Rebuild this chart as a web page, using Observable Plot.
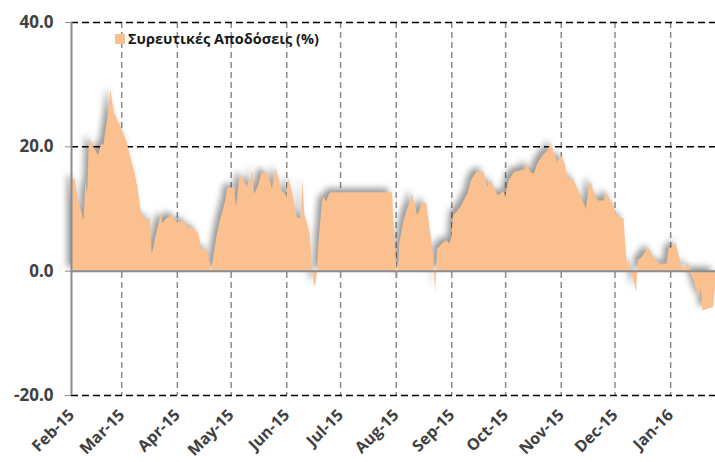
<!DOCTYPE html>
<html><head><meta charset="utf-8">
<script src="https://cdn.jsdelivr.net/npm/d3@7"></script>
<script src="https://cdn.jsdelivr.net/npm/@observablehq/plot@0.6"></script>
<style>
body{margin:0;background:#fff;}
#wrap{position:relative;width:715px;height:462px;}
#legend{position:absolute;left:115px;top:29px;font:bold 14.5px "Open Sans", sans-serif;color:#1a1a1a;display:flex;align-items:center;gap:3px;z-index:2}
#legend .sw{width:10px;height:10px;background:#FAC090;display:inline-block}
</style></head><body><div id="wrap"><div id="legend"><span class="sw"></span><span>Συρευτικές Αποδόσεις (%)</span></div></div>
<script>
const startDate = "2015-02-01";
const endOffset = 359;
const seriesName = "Συρευτικές Αποδόσεις (%)";
const dayOffsets = [0,2,4,7,8,9,10,11,15,17,18,20,22,24,26,28,31,33,35,37,39,42,44,45,47,50,51,52,54,57,59,61,64,65,68,71,72,73,76,78,81,83,86,87,91,92,94,96,98,99,100,101,102,104,106,108,110,112,114,116,117,119,120,121,123,125,126,128,129,130,133,134,135,136,137,138,140,141,142,144,145,179,180,182,183,185,187,189,190,192,193,195,196,198,200,202,203,204,205,207,209,211,212,213,215,217,220,221,223,226,230,232,234,236,238,241,242,244,247,251,253,254,256,258,260,263,266,267,269,271,273,275,277,280,281,284,287,289,290,292,294,297,298,300,302,304,306,308,309,310,311,312,313,315,316,318,320,322,324,327,329,330,332,333,335,337,338,340,342,344,345,347,348,350,351,352,355,358,359];
const cumulativeReturns = [14.6,14.8,11.3,8.1,14.6,12.5,21.3,20.7,18.6,20.5,20.2,24.2,29.1,25.3,24.0,22.9,20.7,18.3,16.2,13.5,9.2,8.1,8.6,2.7,5.4,9.2,7.6,8.1,8.6,8.9,7.8,7.9,7.9,7.0,6.8,6.0,4.4,3.3,3.5,-0.2,5.4,8.1,11.3,13.2,13.5,10.3,15.4,14.8,13.5,14.3,14.6,16.2,12.4,13.5,15.6,15.9,15.4,13.2,16.4,14.6,13.0,12.4,11.9,14.8,13.0,9.7,8.6,8.4,14.6,9.2,6.0,2.0,-1.6,-2.6,-0.5,4.9,11.3,11.9,11.1,12.4,12.6,12.6,6.0,-1.8,4.4,7.6,9.7,11.1,12.4,10.3,8.9,10.3,11.1,10.8,6.5,2.2,-3.7,3.5,3.8,4.4,4.9,4.4,5.4,8.9,9.5,10.3,11.9,12.4,14.6,15.9,15.9,13.5,14.6,13.2,12.1,12.8,11.9,14.6,15.9,16.2,16.4,17.3,15.9,15.6,17.3,18.6,19.4,20.5,19.1,17.5,18.6,17.3,14.8,14.8,14.0,12.1,10.0,14.3,14.0,12.1,11.3,11.3,12.7,11.6,10.8,8.9,8.6,8.4,3.8,0.6,1.9,0.0,-1.0,-3.4,1.7,2.2,3.0,3.6,2.5,1.4,0.9,1.1,1.1,3.5,3.8,4.5,3.3,0.9,0.3,1.4,-0.2,-1.6,-2.6,-4.5,-2.9,-6.4,-6.1,-5.9,-2.6];
const monthTicks = ["2015-02-01","2015-03-01","2015-04-01","2015-05-01","2015-06-01","2015-07-01","2015-08-01","2015-09-01","2015-10-01","2015-11-01","2015-12-01","2016-01-01"];
const yTicks = [-20, 0, 20, 40];
const yDashedGrid = [-20, 20, 40];

const start = new Date(startDate);
const data = dayOffsets.map((d, i) => ({date: d3.utcDay.offset(start, d), value: cumulativeReturns[i]}));
const months = monthTicks.map(s => new Date(s));

const chart = Plot.plot({
  width: 715,
  height: 462,
  marginLeft: 71,
  marginRight: 0,
  marginTop: 22,
  marginBottom: 67,
  style: {fontFamily: "'Open Sans', sans-serif", background: "#fff"},
  x: {type: "utc", domain: [start, d3.utcDay.offset(start, endOffset)]},
  y: {domain: [-20, 40]},
  marks: [
    Plot.ruleX(months.slice(1), {stroke: "#8c8c8c", strokeWidth: 1.5, strokeDasharray: "6,4"}),
    Plot.ruleY(yDashedGrid, {stroke: "#000", strokeWidth: 1.5, strokeDasharray: "7,4"}),
    Plot.areaY(data, {x: "date", y: "value", fill: "#FAC090", title: () => seriesName}),
    Plot.ruleX([start], {stroke: "#8c8c8c", strokeWidth: 2}),
    Plot.ruleY([0], {stroke: "#8c8c8c", strokeWidth: 2}),
    Plot.axisY({ticks: yTicks, tickFormat: d => d.toFixed(1), tickSize: 6, tickPadding: 12, stroke: "#8c8c8c", fill: "#404040", fontSize: 17, fontWeight: "bold", label: null}),
    Plot.axisX({ticks: months, tickFormat: d3.utcFormat("%b-%y"), tickSize: 0, tickPadding: 17, tickRotate: -45, fill: "#404040", fontSize: 16, fontWeight: "bold", label: null})
  ]
});
const area = chart.querySelector('g[aria-label="area"]');
if (area) area.style.filter = "drop-shadow(-4px -4px 3px rgba(0,0,0,0.4))";
chart.style.position = "absolute";
chart.style.left = "0";
chart.style.top = "0";
document.getElementById("wrap").appendChild(chart);
</script></body></html>
